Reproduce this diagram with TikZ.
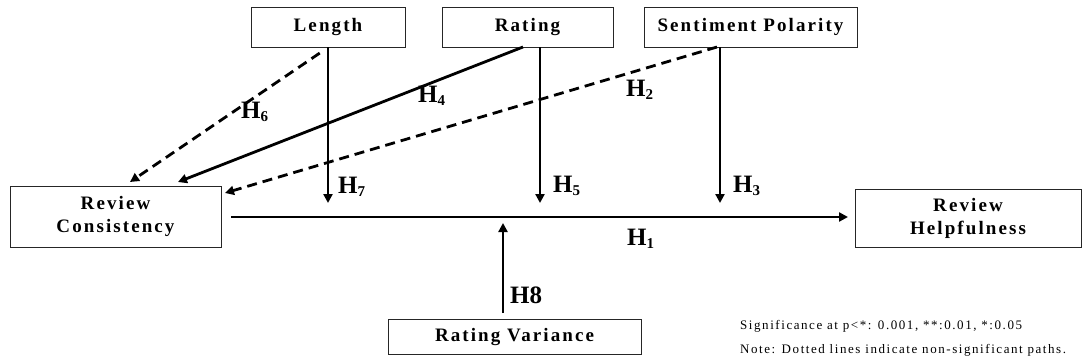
\documentclass[tikz,border=0pt]{standalone}
\usepackage{fontspec}
\setmainfont{Liberation Serif}
\newfontfamily\boxfont[LetterSpace=11]{Liberation Serif}
\newfontfamily\hfont{Liberation Serif}
\newfontfamily\notefont[LetterSpace=12]{Liberation Serif}
\usetikzlibrary{arrows.meta}
\newcommand\hyp[1]{H\raisebox{-3.5pt}{\fontsize{15}{15}\selectfont #1}}
\begin{document}
\begin{tikzpicture}[x=1pt,y=-1pt,
  box/.style={draw=black!85, line width=0.9pt, rectangle, inner sep=0pt,
    font=\boxfont\bfseries\fontsize{19}{23}\selectfont, align=center},
  sig/.style={line width=2.8pt, -{Triangle[length=9pt,width=9pt]}},
  nsig/.style={line width=2.8pt, dash pattern=on 10pt off 6pt, -{Triangle[length=9pt,width=9pt]}},
  hl/.style={font=\hfont\bfseries\fontsize{25}{25}\selectfont, inner sep=0pt, anchor=base west},
  note/.style={font=\notefont\fontsize{13}{13}\selectfont, inner sep=0pt, anchor=base west}]
\useasboundingbox (0,0) rectangle (1083,362);
\fill[white] (0,0) rectangle (1083,362);

% boxes
\node[box, minimum width=154pt, minimum height=40pt] (len) at (328,27) {Length};
\node[box, minimum width=171pt, minimum height=40pt] (rat) at (527.5,27) {Rating};
\node[box, minimum width=213pt, minimum height=40pt] (sen) at (750.5,27) {Sentiment Polarity};
\node[box, minimum width=211pt, minimum height=61pt] (rc) at (115.5,216.5) {Review\\Consistency};
\node[box, minimum width=226pt, minimum height=58pt] (rh) at (968,218) {Review\\Helpfulness};
\node[box, minimum width=253pt, minimum height=35pt] (rv) at (514.5,336.5) {Rating Variance};

% coordinates
\coordinate (h1s) at (231,217);
\coordinate (h1e) at (848,217);
\coordinate (e7) at (328,203);
\coordinate (e5) at (540,203);
\coordinate (e3) at (720,203);
\coordinate (e8) at (503,223);
\coordinate (s8) at (503,313);
\coordinate (e6) at (130,182);
\coordinate (e4) at (178,182);
\coordinate (e2) at (225,193);
\coordinate (s2) at (717,47);
\coordinate (s4) at (523,47);

% main path
\draw[sig] (h1s) -- (h1e);
% moderators
\draw[sig] (len.south) -- (e7);
\draw[sig] (rat.south -| e5) -- (e5);
\draw[sig] (sen.south -| e3) -- (e3);
\draw[sig] (s8) -- (e8);
% direct to consistency
\draw[nsig, shorten <=10pt] (len.south) -- (e6);
\draw[sig] (s4) -- (e4);
\draw[nsig] (s2) -- (e2);

% labels
\node[hl] (l6) at (241,118) {\hyp{6}};
\node[hl] (l4) at (418,102) {\hyp{4}};
\node[hl] (l2) at (626,96) {\hyp{2}};
\node[hl] (l7) at (338,193) {\hyp{7}};
\node[hl] (l5) at (553,192) {\hyp{5}};
\node[hl] (l3) at (733,192) {\hyp{3}};
\node[hl] (l1) at (627,245) {\hyp{1}};
\node[hl] (l8) at (510,303) {H8};

% notes
\node[note] (n1) at (740,329) {Significance at p<*: 0.001, **:0.01, *:0.05};
\node[note] (n2) at (740,353) {Note: Dotted lines indicate non-significant paths.};
\end{tikzpicture}
\end{document}
